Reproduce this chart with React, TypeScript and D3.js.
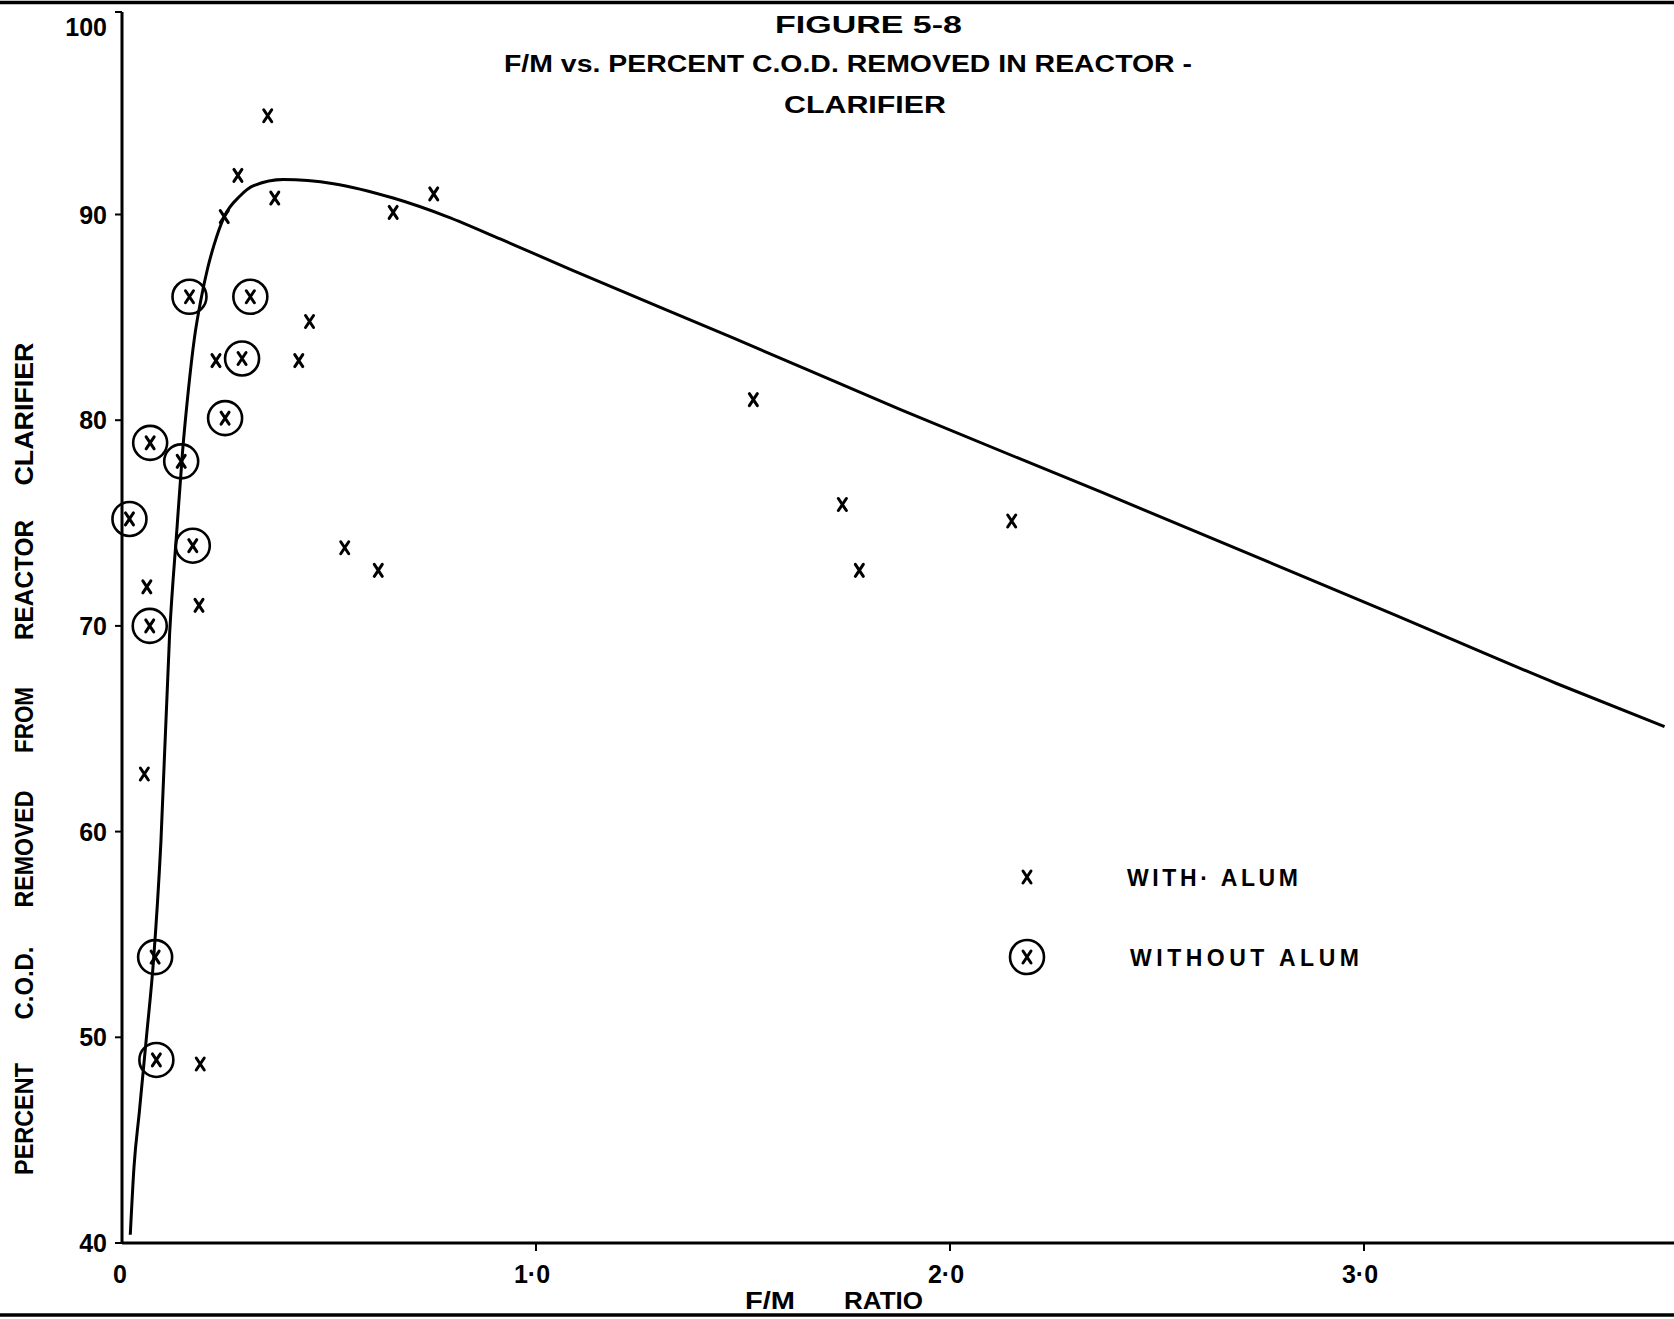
import React from 'react';
import * as d3 from 'd3';

// F/M ratio vs percent C.O.D. removed
const withAlum: [number, number][] = [
  [0.352, 94.8], [0.280, 91.9], [0.369, 90.8], [0.247, 89.9], [0.655, 90.1],
  [0.753, 91.0], [0.453, 84.8], [0.227, 82.9], [0.427, 82.9], [1.525, 81.0],
  [1.740, 75.9], [2.149, 75.1], [1.781, 72.7], [0.538, 73.8], [0.619, 72.7],
  [0.060, 71.9], [0.186, 71.0], [0.054, 62.8], [0.189, 48.7],
];

const withoutAlum: [number, number][] = [
  [0.163, 86.0], [0.310, 86.0], [0.290, 83.0], [0.249, 80.1], [0.068, 78.9],
  [0.143, 78.0], [0.018, 75.2], [0.171, 73.9], [0.067, 70.0], [0.080, 53.9],
  [0.083, 48.9],
];

// hand drawn fit curve
const fitCurve: [number, number][] = [
  [0.020, 40.4], [0.029, 43.7], [0.042, 46.4], [0.059, 50.0], [0.076, 53.7],
  [0.094, 59.5], [0.115, 69.6], [0.133, 74.8], [0.146, 78.4], [0.160, 81.4],
  [0.175, 84.0], [0.192, 86.0], [0.207, 87.4], [0.222, 88.5], [0.247, 89.9],
  [0.285, 90.9], [0.318, 91.4], [0.390, 91.7], [0.511, 91.5], [0.655, 90.8],
  [0.785, 89.9], [0.915, 88.8], [1.087, 87.3], [1.476, 84.0], [1.882, 80.5],
  [2.366, 76.5], [3.067, 70.6], [3.465, 67.2], [3.726, 65.1],
];

const yTicks = [100, 90, 80, 70, 60, 50, 40];
const xTicks = [0, 1, 2, 3];
const xTickLabels = ['0', '1·0', '2·0', '3·0'];

const titleLines = ['FIGURE 5-8', 'F/M  vs. PERCENT C.O.D. REMOVED IN  REACTOR -', 'CLARIFIER'];
const yLabelWords = ['PERCENT', 'C.O.D.', 'REMOVED', 'FROM', 'REACTOR', 'CLARIFIER'];
const legendItems = ['WITH· ALUM', 'WITHOUT  ALUM'];

const W = 1674;
const H = 1319;
const FONT = "'Liberation Sans', Arial, sans-serif";

const App = () => {
  const x = d3.scaleLinear().domain([0, 3]).range([122, 1364]);
  const y = d3.scaleLinear().domain([40, 90]).range([1243, 214.5]);

  const line = d3.line<[number, number]>()
    .x(d => x(d[0]))
    .y(d => y(d[1]))
    .curve(d3.curveMonotoneX);

  const xMark = 'M-4,-6L4,6M4,-6L-4,6';

  // layout of the title / label text (start x, baseline y, width)
  const titleLayout = [
    { x: 775, y: 33, w: 187 },
    { x: 504, y: 72, w: 688 },
    { x: 784, y: 113, w: 162 },
  ];
  const yWordLayout = [
    { c: 1119, w: 112 },
    { c: 983, w: 73 },
    { c: 849, w: 117 },
    { c: 720, w: 66 },
    { c: 580, w: 120 },
    { c: 414, w: 143 },
  ];
  const legendLayout = [
    { mx: 1027, my: 877, tx: 1127, ty: 886, w: 171 },
    { mx: 1027, my: 957, tx: 1130, ty: 966, w: 229 },
  ];

  return (
    <div style={{ position: 'absolute', left: 0, top: 0 }}>
      <svg width={W} height={H} style={{ display: 'block', background: '#fff' }}>
        {/* page frame lines */}
        <line x1={0} x2={W} y1={2.5} y2={2.5} stroke="#000" strokeWidth={3.5} />
        <line x1={0} x2={W} y1={1315} y2={1315} stroke="#000" strokeWidth={3.5} />

        {/* title */}
        {titleLines.map((t, i) => (
          <text key={t} x={titleLayout[i].x} y={titleLayout[i].y} fontFamily={FONT}
            fontWeight="bold" fontSize={23} textLength={titleLayout[i].w}
            lengthAdjust="spacingAndGlyphs">{t}</text>
        ))}

        {/* axes */}
        <line x1={x(0)} x2={x(0)} y1={12} y2={y(40)} stroke="#000" strokeWidth={3} />
        <line x1={x(0)} x2={W} y1={y(40)} y2={y(40)} stroke="#000" strokeWidth={3} />

        {yTicks.map(v => {
          const yy = v === 100 ? 12 : y(v);
          return (
            <g key={v}>
              <line x1={x(0) - 7} x2={x(0)} y1={yy} y2={yy} stroke="#000" strokeWidth={2} />
              <text x={107} y={v === 100 ? 27 : yy} dy="0.36em" textAnchor="end"
                fontFamily={FONT} fontWeight="bold" fontSize={25}>{v}</text>
            </g>
          );
        })}

        {xTicks.map((v, i) => (
          <g key={v}>
            {v > 0 && <line x1={x(v)} x2={x(v)} y1={y(40)} y2={y(40) + 8} stroke="#000" strokeWidth={2} />}
            <text x={x(v) - (v === 0 ? 2 : 4)} y={1283} textAnchor="middle" fontFamily={FONT}
              fontWeight="bold" fontSize={25}>{xTickLabels[i]}</text>
          </g>
        ))}

        {/* axis titles */}
        <text x={745} y={1309} fontFamily={FONT} fontWeight="bold" fontSize={23}
          textLength={50} lengthAdjust="spacingAndGlyphs">F/M</text>
        <text x={844} y={1309} fontFamily={FONT} fontWeight="bold" fontSize={23}
          textLength={79} lengthAdjust="spacingAndGlyphs">RATIO</text>

        {yLabelWords.map((w, i) => (
          <text key={w} transform={`translate(33,${yWordLayout[i].c}) rotate(-90)`}
            textAnchor="middle" fontFamily={FONT} fontWeight="bold" fontSize={26}
            textLength={yWordLayout[i].w} lengthAdjust="spacingAndGlyphs">{w}</text>
        ))}

        {/* fitted curve */}
        <path d={line(fitCurve) ?? ''} fill="none" stroke="#000" strokeWidth={3} strokeLinejoin="round" />

        {/* with alum: x */}
        {withAlum.map((d, i) => (
          <path key={'w' + i} d={xMark} transform={`translate(${x(d[0])},${y(d[1])})`}
            stroke="#000" strokeWidth={3} strokeLinecap="round" fill="none" />
        ))}

        {/* without alum: circled x */}
        {withoutAlum.map((d, i) => (
          <g key={'o' + i} transform={`translate(${x(d[0])},${y(d[1])})`}>
            <circle r={17} fill="none" stroke="#000" strokeWidth={2.6} />
            <path d={xMark} stroke="#000" strokeWidth={3} strokeLinecap="round" fill="none" />
          </g>
        ))}

        {/* legend */}
        {legendItems.map((t, i) => (
          <g key={t}>
            <g transform={`translate(${legendLayout[i].mx},${legendLayout[i].my})`}>
              {i === 1 && <circle r={17} fill="none" stroke="#000" strokeWidth={2.6} />}
              <path d={xMark} stroke="#000" strokeWidth={3} strokeLinecap="round" fill="none" />
            </g>
            <text x={legendLayout[i].tx} y={legendLayout[i].ty} fontFamily={FONT}
              fontWeight="bold" fontSize={23} textLength={legendLayout[i].w}
              lengthAdjust="spacing">{t}</text>
          </g>
        ))}
      </svg>
    </div>
  );
};

export default App;
